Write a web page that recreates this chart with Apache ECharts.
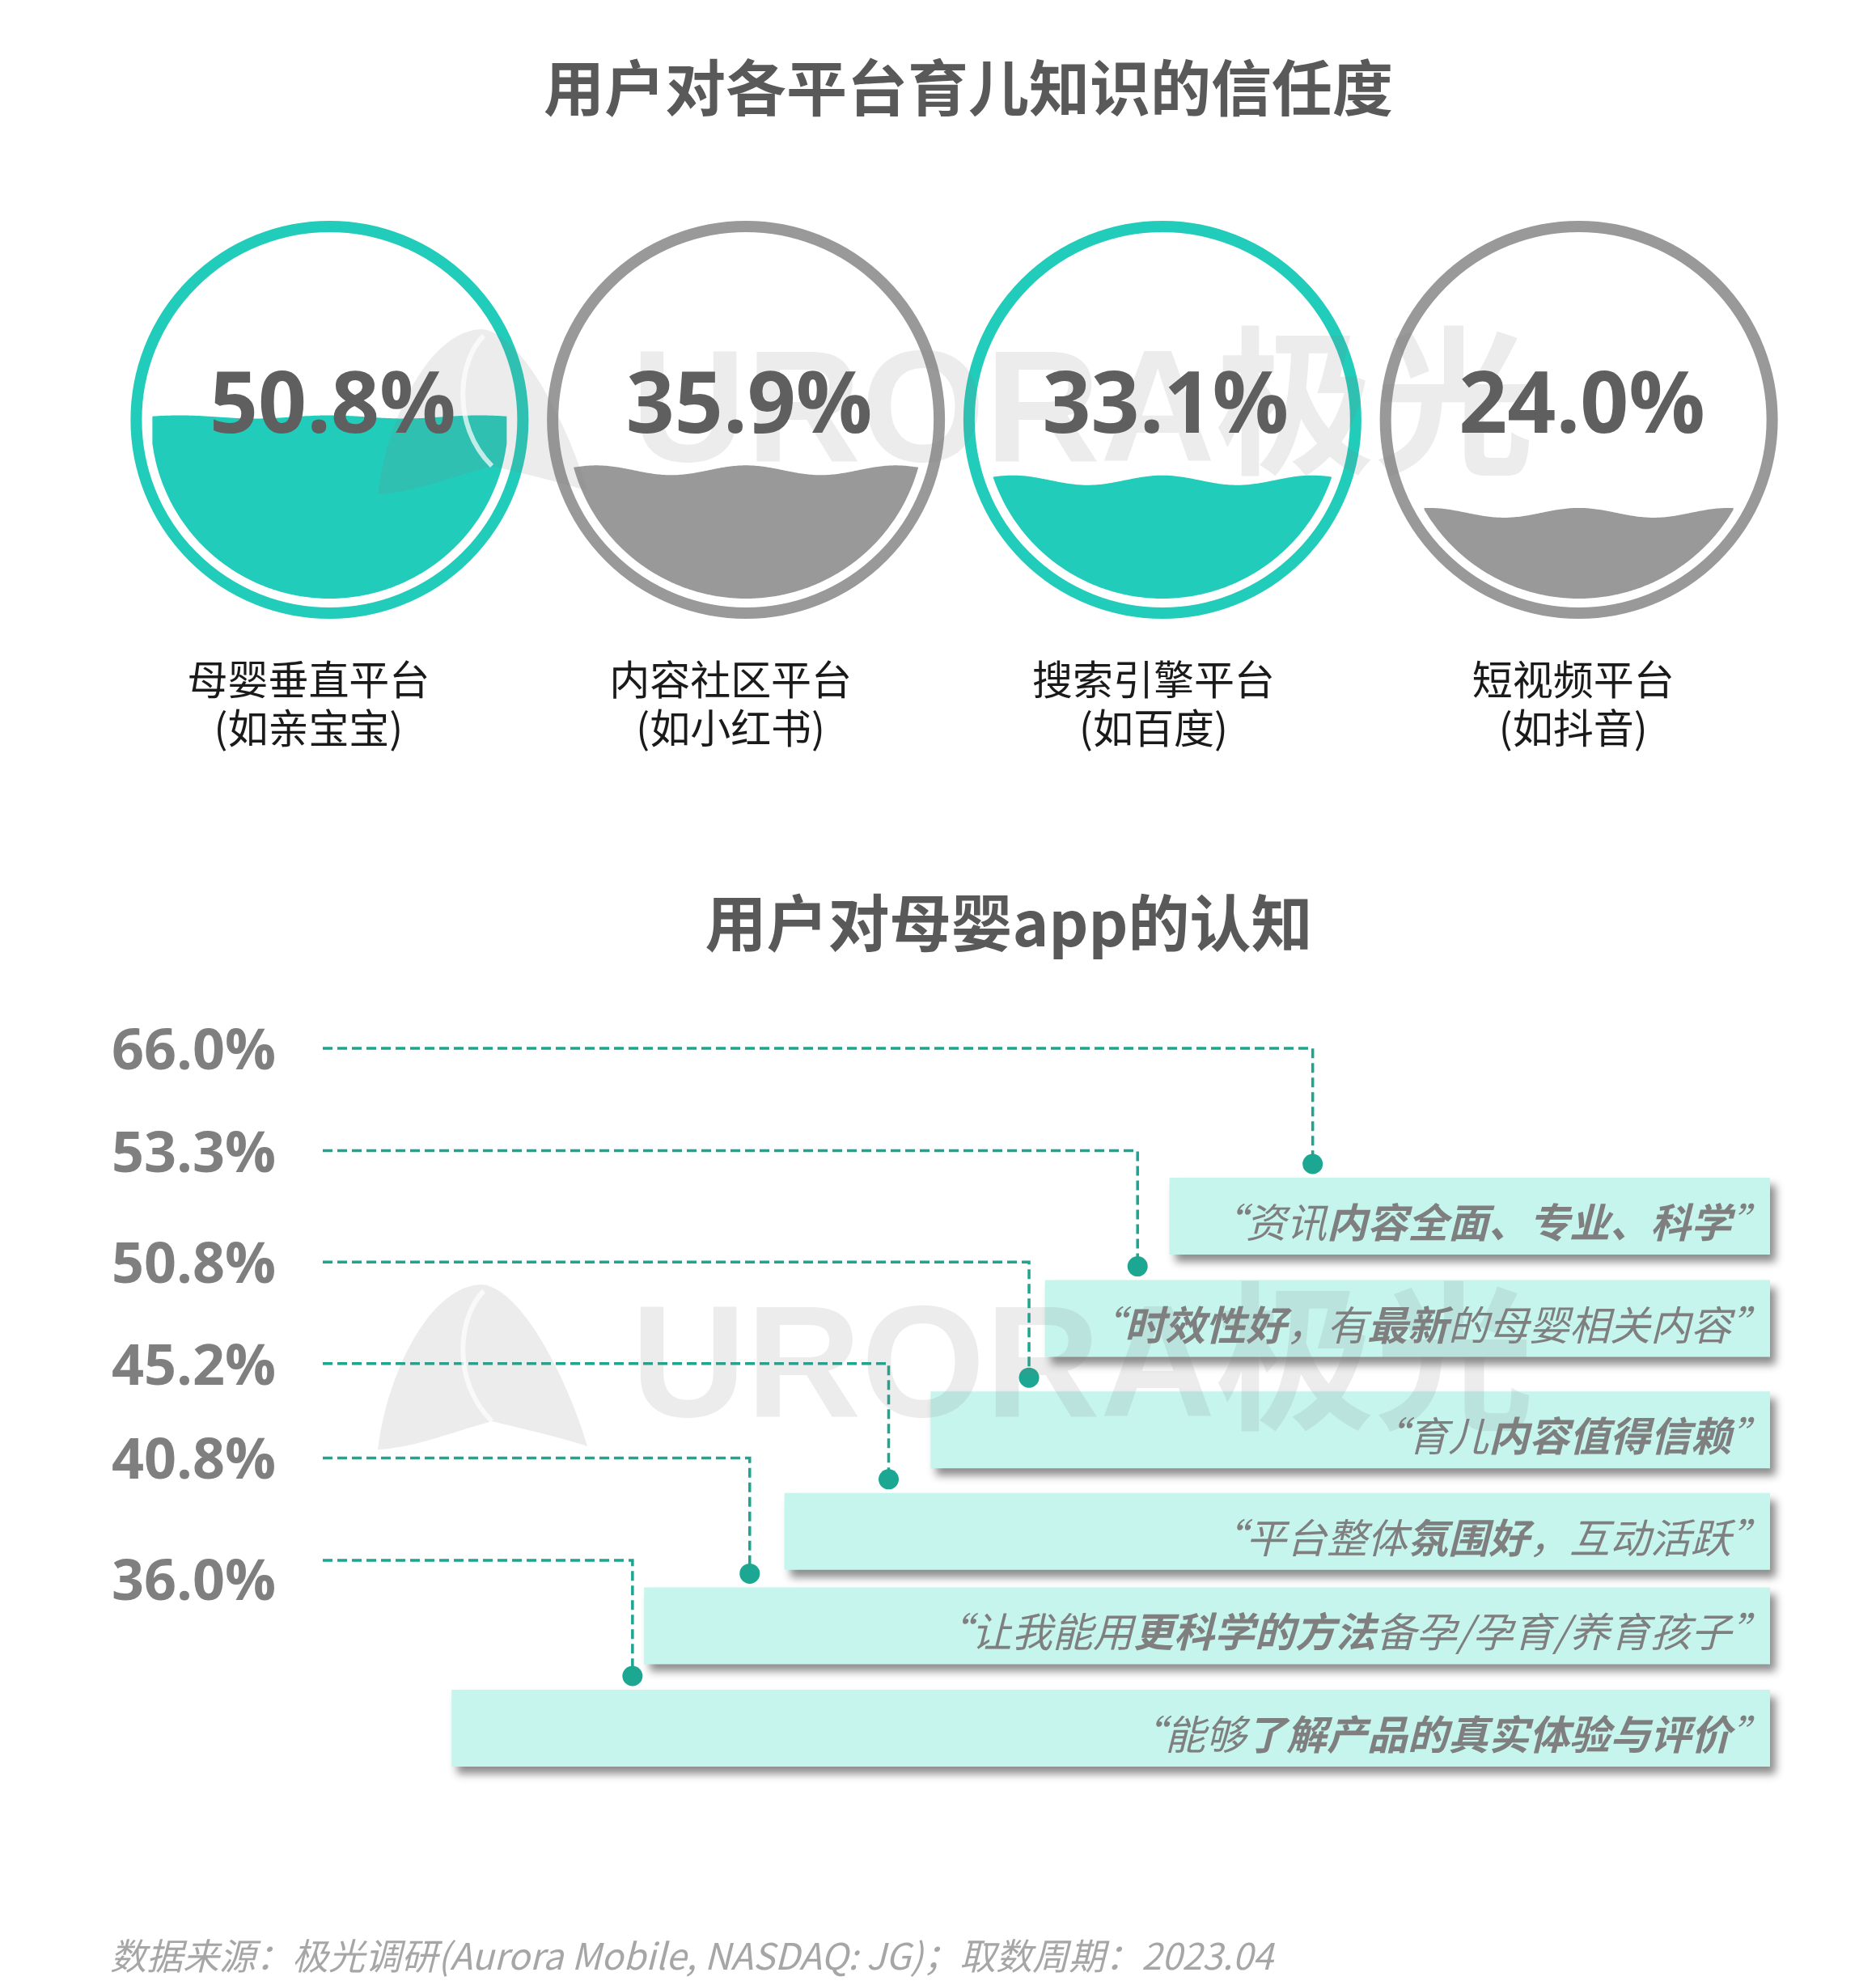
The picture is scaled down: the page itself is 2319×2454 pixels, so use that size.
<!DOCTYPE html>
<html><head><meta charset="utf-8">
<style>html,body{margin:0;padding:0;background:#fff}#c{width:2319px;height:2454px}</style>
<script src="https://cdn.jsdelivr.net/npm/echarts@6/dist/echarts.min.js"></script>
</head><body><div id="c"></div><script>
// ---------- data ----------
const trustTitle = '用户对各平台育儿知识的信任度';
const platformNames = ['母婴垂直平台', '内容社区平台', '搜索引擎平台', '短视频平台'];
const platformExamples = ['(如亲宝宝)', '(如小红书)', '(如百度)', '(如抖音)'];
const trustValues = [50.8, 35.9, 33.1, 24.0];

const perceptionTitle = '用户对母婴app的认知';
const perceptionValues = [66.0, 53.3, 50.8, 45.2, 40.8, 36.0];
// text segments: [text, emphasised]
const perceptionTexts = [
  [['“资讯', 0], ['内容全面、专业、科学', 1], ['”', 0]],
  [['“', 0], ['时效性好', 1], ['，有', 0], ['最新', 1], ['的母婴相关内容”', 0]],
  [['“育儿', 0], ['内容值得信赖', 1], ['”', 0]],
  [['“平台整体', 0], ['氛围好', 1], ['，互动活跃”', 0]],
  [['“让我能用', 0], ['更科学的方法', 1], ['备孕/孕育/养育孩子”', 0]],
  [['“能够', 0], ['了解产品的真实体验与评价', 1], ['”', 0]]
];
const sourceNote = '数据来源：极光调研(Aurora Mobile, NASDAQ: JG)；取数周期：2023.04';

// ---------- layout (axis units of the lower grid, 0-100; pixel nudges) ----------
const elbowPos = [68.4, 56.3, 48.8, 39.1, 29.5, 21.4];
const boxStart = [58.5, 49.9, 42.0, 31.9, 22.2, 8.9];
const labelShift = [6, 6, 6, 6, 6, 29];
const rowShift = [0, 0, 11, 10, 0, 0];
const nameShift = [-26, -19, -11, -7];
const waveAmp = [2, 6, 6, 6];

const TEAL = '#22CCBB', GRAY = '#999999';
const CJK = '"Noto Sans CJK SC", "Noto Sans", sans-serif';
const NUM = '"Open Sans", "Noto Sans", sans-serif';

const chart = echarts.init(document.getElementById('c'), null, {renderer: 'canvas'});

function liquidItem(params, api) {
  const i = params.dataIndex;
  const v = api.value(1);
  const c = api.coord([i, 50]);
  const b = api.coord([i, 0]);
  const t = api.coord([i, 100]);
  const R = (b[1] - t[1]) / 2;
  const cx = c[0], cy = c[1];
  const level = api.coord([i, v])[1];
  const color = i % 2 === 0 ? TEAL : GRAY;
  const amp = waveAmp[i], wl = 185;
  const top = [], bot = [];
  for (let x = -R; x <= R + 0.01; x += 2) {
    const h = Math.sqrt(Math.max(0, R * R - x * x));
    const yw = level - amp * Math.cos(2 * Math.PI * x / wl);
    const yt = Math.max(yw, cy - h);
    const yb = cy + h;
    if (yt < yb) { top.push([cx + x, yt]); bot.push([cx + x, yb]); }
  }
  const pts = top.concat(bot.reverse());
  return {type: 'group', children: [
    {type: 'circle', shape: {cx: cx, cy: cy, r: R + 18}, style: {fill: 'none', stroke: color, lineWidth: 14}},
    {type: 'polygon', shape: {points: pts}, style: {fill: color}}
  ]};
}

function liquidText(params, api) {
  const i = params.dataIndex;
  const v = api.value(1);
  const c = api.coord([i, 50]);
  const cx = c[0], cy = c[1];
  return {type: 'group', children: [
    {type: 'text', x: cx + 4, y: cy - 14, style: {text: v.toFixed(1) + '%', fill: '#5f5f5f',
      font: 'bold 105px ' + NUM, align: 'center', verticalAlign: 'middle'}},
    {type: 'text', x: cx + nameShift[i], y: cy + 321, style: {text: platformNames[i], fill: '#1a1a1a',
      font: '50px ' + CJK, align: 'center', verticalAlign: 'middle'}},
    {type: 'text', x: cx + nameShift[i], y: cy + 381, style: {text: platformExamples[i], fill: '#1a1a1a',
      font: '50px ' + CJK, align: 'center', verticalAlign: 'middle'}}
  ]};
}

function rowItem(params, api) {
  const i = params.dataIndex;
  const p = api.coord([0, i]);
  const x0 = p[0], y = p[1] + rowShift[i];
  const xe = api.coord([elbowPos[i], i])[0];
  const xb = api.coord([boxStart[i], i])[0];
  const xr = api.coord([100, i])[0];
  return {type: 'group', children: [
    {type: 'rect', shape: {x: xb, y: y + 160, width: xr - xb, height: 95},
      style: {fill: '#C6F5EE', shadowBlur: 10, shadowColor: 'rgba(0,0,0,0.45)', shadowOffsetX: 7, shadowOffsetY: 9}},
    {type: 'polyline', shape: {points: [[x0, y], [xe, y], [xe, y + 136]]},
      style: {fill: null, stroke: '#1DA58F', lineWidth: 3.5, lineDash: [12, 6]}},
    {type: 'circle', shape: {cx: xe, cy: y + 143, r: 12.5}, style: {fill: '#1BA791'}}
  ]};
}

const richStyles = {
  n: {fontFamily: CJK, fontSize: 50, fontStyle: 'italic', fontWeight: 'normal', fill: '#7f7f7f', color: '#7f7f7f'},
  b: {fontFamily: CJK, fontSize: 50, fontStyle: 'italic', fontWeight: 'bold', fill: '#7f7f7f', color: '#7f7f7f'}
};

function rowText(params, api) {
  const i = params.dataIndex;
  const v = api.value(2);
  const p = api.coord([0, i]);
  const x0 = p[0], y = p[1] + rowShift[i];
  const xr = api.coord([100, i])[0];
  const txt = perceptionTexts[i].map(s => '{' + (s[1] ? 'b' : 'n') + '|' + s[0] + '}').join('');
  return {type: 'group', children: [
    {type: 'text', x: x0 - 58, y: y + labelShift[i], style: {text: v.toFixed(1) + '%', fill: '#7f7f7f',
      font: 'bold 70px ' + NUM, align: 'right', verticalAlign: 'middle'}},
    {type: 'text', x: xr + 2, y: y + 160 + 47 + 8, style: {text: txt, rich: richStyles, fill: '#7f7f7f',
      align: 'right', verticalAlign: 'middle'}}
  ]};
}

// faint brand watermark (logo mark + wordmark)
const wmColor = 'rgba(128,128,128,0.15)';
const logoCurves = [ // cubic segments: start, cp1, cp2, end
  [[467, 1792], [478, 1700], [530, 1590], [595, 1588]],
  [[595, 1588], [642, 1590], [700, 1700], [726, 1788]],
  [[726, 1788], [690, 1776], [640, 1765], [608, 1757]],
  [[608, 1757], [560, 1770], [512, 1790], [467, 1792]]
];
function sampleCubic(seg, dy) {
  const out = [];
  for (let k = 0; k <= 24; k++) {
    const t = k / 24, u = 1 - t;
    const x = u*u*u*seg[0][0] + 3*u*u*t*seg[1][0] + 3*u*t*t*seg[2][0] + t*t*t*seg[3][0];
    const y = u*u*u*seg[0][1] + 3*u*u*t*seg[1][1] + 3*u*t*t*seg[2][1] + t*t*t*seg[3][1];
    out.push([x, y + dy]);
  }
  return out;
}
function watermark(dy) {
  let pts = [];
  logoCurves.forEach(s => { pts = pts.concat(sampleCubic(s, dy)); });
  return [
    {type: 'polygon', z: 3, shape: {points: pts}, style: {fill: wmColor}},
    {type: 'bezierCurve', z: 3, shape: {x1: 598, y1: 1596 + dy, cpx1: 568, cpy1: 1625 + dy, cpx2: 556, cpy2: 1705 + dy, x2: 608, y2: 1757 + dy},
      style: {fill: null, stroke: 'rgba(255,255,255,0.7)', lineWidth: 6}},
    {type: 'text', z: 3, x: 780, y: 1697 + dy, style: {text: 'URORA极光', fill: wmColor, font: 'bold 197px "Liberation Sans", "Noto Sans CJK SC", sans-serif', align: 'left', verticalAlign: 'middle'}}
  ];
}

const option = {
  backgroundColor: '#ffffff',
  animation: false,
  grid: [
    {left: 150, right: 110, top: 298, height: 442},
    {left: 399, right: 131, top: 1232.7, height: 759.6}
  ],
  xAxis: [
    {type: 'category', gridIndex: 0, data: platformNames, show: false},
    {type: 'value', gridIndex: 1, min: 0, max: 100, show: false}
  ],
  yAxis: [
    {type: 'value', gridIndex: 0, min: 0, max: 100, show: false},
    {type: 'category', gridIndex: 1, inverse: true, data: perceptionValues.map((v, i) => String(i)), show: false}
  ],
  graphic: [
    {type: 'text', z: 6, x: 1197, y: 108, style: {text: trustTitle, fill: '#595959', font: 'bold 75px ' + CJK, align: 'center', verticalAlign: 'middle'}},
    {type: 'text', z: 6, x: 1247, y: 1141, style: {text: perceptionTitle, fill: '#595959', font: 'bold 76px ' + CJK, align: 'center', verticalAlign: 'middle'}},
    {type: 'text', z: 6, x: 136, y: 2418, style: {text: sourceNote, fill: '#a6a6a6', font: 'italic 45px ' + CJK, align: 'left', verticalAlign: 'middle'}}
  ].concat(watermark(-1181), watermark(0)),
  series: [
    {type: 'custom', name: 'trust', xAxisIndex: 0, yAxisIndex: 0, z: 2,
      data: trustValues.map((v, i) => [i, v]), encode: {x: 0, y: 1}, renderItem: liquidItem},
    {type: 'custom', name: 'trustLabels', xAxisIndex: 0, yAxisIndex: 0, z: 5,
      data: trustValues.map((v, i) => [i, v]), encode: {x: 0, y: 1}, renderItem: liquidText},
    {type: 'custom', name: 'perception', xAxisIndex: 1, yAxisIndex: 1, z: 2,
      data: perceptionValues.map((v, i) => [0, i, v]), encode: {x: 0, y: 1}, renderItem: rowItem},
    {type: 'custom', name: 'perceptionLabels', xAxisIndex: 1, yAxisIndex: 1, z: 5,
      data: perceptionValues.map((v, i) => [0, i, v]), encode: {x: 0, y: 1}, renderItem: rowText}
  ]
};
chart.setOption(option);
</script></body></html>
